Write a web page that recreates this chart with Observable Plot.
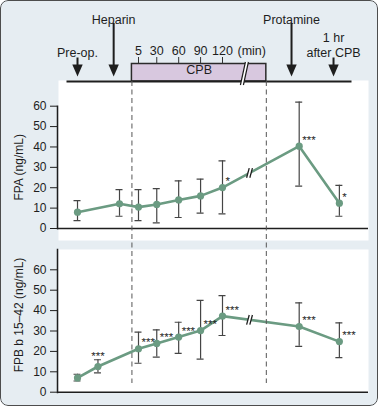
<!DOCTYPE html>
<html><head><meta charset="utf-8">
<script src="https://cdn.jsdelivr.net/npm/d3@7"></script>
<script src="https://cdn.jsdelivr.net/npm/@observablehq/plot@0.6"></script>
<style>
html,body{margin:0;padding:0;background:#fff;}
#chart{position:relative;width:378px;height:406px;background:#e6edf2;overflow:hidden;border-radius:8px;}
#border{position:absolute;left:0;top:0;width:378px;height:406px;border:1.5px solid #4d4d4d;border-radius:8px;box-sizing:border-box;pointer-events:none;}
</style></head><body><div id="chart"><div id="border"></div></div><script>
// ---- data ----
const cpbTicks = [5, 30, 60, 90, 120];
const cpbTickLabels = ["5", "30", "60", "90", "120"];
const cpbUnit = "(min)";
const cpbStart = -4, cpbEnd = 180;
const timelineBreak = 150;
const panelBreak = 157;
const eventLabels = ["Pre-op.", "Heparin", "Protamine", "1 hr\nafter CPB"];
const eventX = [-78.5, -29, 214.5, 272];
const eventKind = ["time", "drug", "drug", "time"];

const fpaX = [-78.5, -21, 5, 30, 60, 90, 120, 225, 280];
const fpaMean = [8, 12.1, 10.5, 11.8, 14, 16, 20.1, 40.4, 12.4];
const fpaLow = [3.9, 6, 3.9, 2.8, 5.4, 7.5, 7.2, 20.8, 6];
const fpaHigh = [13.7, 19.1, 19.1, 19.6, 23.4, 24.2, 33.2, 62, 21.2];
const fpaSig = ["", "", "", "", "", "", "*", "***", "*"];

const fpbX = [-78.5, -50.5, 5, 30, 60, 90, 120, 225, 280];
const fpbMean = [7, 12.6, 21.3, 23.9, 27, 30.2, 37.3, 32.2, 24.8];
const fpbLow = [5.5, 9.5, 14.2, 17.2, 19, 16.2, 27.8, 22.5, 16.9];
const fpbHigh = [8.8, 15.9, 29.4, 30.6, 34.3, 45, 47.3, 43.8, 34];
const fpbSig = ["", "***", "***", "***", "***", "***", "***", "***", "***"];

const yTicks = [0, 10, 20, 30, 40, 50, 60];

// ---- layout ----
const W = 378;
const FONT = '"Liberation Sans", Arial, Helvetica, sans-serif';
const GREEN = "#6b9b82";
const INK = "#1e1e1e";
const xScale = {domain: [5, 120], range: [138, 222], axis: null};
const chartEl = document.getElementById("chart");
const borderEl = document.getElementById("border");

function place(el, y0) {
  el.style.position = "absolute";
  el.style.left = "0px";
  el.style.top = y0 + "px";
  el.style.background = "transparent";
  el.style.overflow = "visible";
  el.style.maxWidth = "none";
  chartEl.insertBefore(el, borderEl);
}

function slashSymbol(h, s, g) {
  return {draw(ctx) {
    ctx.moveTo(-g / 2 - s, h); ctx.lineTo(-g / 2 + s, -h);
    ctx.moveTo(g / 2 - s, h); ctx.lineTo(g / 2 + s, -h);
  }};
}
function gapSymbol(h, s, g) {
  return {draw(ctx) {
    ctx.moveTo(-g / 2 - s, h); ctx.lineTo(-g / 2 + s, -h);
    ctx.lineTo(g / 2 + s, -h); ctx.lineTo(g / 2 - s, h); ctx.closePath();
  }};
}
const arrowHead = {draw(ctx) {
  ctx.moveTo(0, 0); ctx.lineTo(-5.2, -12); ctx.lineTo(5.2, -12); ctx.closePath();
}};

function panel(opts) {
  const {xs, mean, lo, hi, sig, label, height, marginBottom, yRange, whiteExtra, axisInsetTop, labelY, labelDy} = opts;
  const data = xs.map((x, i) => ({x, m: mean[i], lo: lo[i], hi: hi[i], sig: sig[i]}));
  const i6 = 6, i7 = 7;
  const bx = panelBreak;
  const by = data[i6].m + (bx - data[i6].x) / (data[i7].x - data[i6].x) * (data[i7].m - data[i6].m);
  const breakPt = [{x: bx, y: by}];
  const sigRight = data.filter(d => d.sig && d.x > cpbStart);
  const sigAbove = data.filter(d => d.sig && d.x <= cpbStart);
  return Plot.plot({
    width: W, height, marginTop: 0, marginBottom, marginLeft: 57, marginRight: 10,
    x: xScale,
    y: {domain: [0, 60], range: yRange, axis: null},
    style: {fontFamily: FONT, color: INK},
    marks: [
      Plot.frame({fill: "white", stroke: null, insetLeft: 1, insetBottom: -whiteExtra}),
      Plot.frame({anchor: "left", stroke: INK, strokeWidth: 1.5, insetTop: axisInsetTop}),
      Plot.ruleY([0], {stroke: INK, strokeWidth: 1.5}),
      Plot.axisY({ticks: yTicks, tickSize: 7, tickPadding: 4, fontSize: 12, label: null, stroke: INK, strokeWidth: 1}),
      Plot.text([label], {y: labelY, frameAnchor: "left", textAnchor: "middle", dx: -38, dy: labelDy, rotate: -90, fontSize: 12, fill: INK}),
      Plot.ruleX(data, {x: "x", y1: "lo", y2: "hi", stroke: "#454545", strokeWidth: 1.2}),
      Plot.ruleY(data, {y: "lo", x1: "x", x2: "x", insetLeft: -3.5, insetRight: -3.5, stroke: "#454545", strokeWidth: 1.2}),
      Plot.ruleY(data, {y: "hi", x1: "x", x2: "x", insetLeft: -3.5, insetRight: -3.5, stroke: "#454545", strokeWidth: 1.2}),
      Plot.line(data, {x: "x", y: "m", stroke: GREEN, strokeWidth: 2.6}),
      Plot.dot(data, {x: "x", y: "m", r: 3.6, fill: GREEN, stroke: null}),
      Plot.dot(breakPt, {x: "x", y: "y", symbol: gapSymbol(4.8, 1.3, 3.2), fill: "white", stroke: null, r: 3}),
      Plot.dot(breakPt, {x: "x", y: "y", symbol: slashSymbol(4.8, 1.3, 3.2), fill: "none", stroke: INK, strokeWidth: 1.3, r: 3}),
      Plot.text(sigRight, {x: "x", y: "m", text: "sig", textAnchor: "start", dx: 3, dy: -6, fontSize: 11.5, fill: INK}),
      Plot.text(sigAbove, {x: "x", y: "m", text: "sig", textAnchor: "middle", dy: -10, fontSize: 11.5, fill: INK})
    ]
  });
}

// Top panel (FPA)
const topPanel = panel({
  xs: fpaX, mean: fpaMean, lo: fpaLow, hi: fpaHigh, sig: fpaSig,
  label: "FPA (ng/mL)", height: 162, marginBottom: 14, yRange: [148, 25.7],
  whiteExtra: 12, axisInsetTop: 25.7, labelY: [30], labelDy: 0
});
place(topPanel, 80);

// Bottom panel (FPB b 15–42)
const bottomPanel = panel({
  xs: fpbX, mean: fpbMean, lo: fpbLow, hi: fpbHigh, sig: fpbSig,
  label: "FPB b 15\u201342 (ng/mL)", height: 146, marginBottom: 3, yRange: [142.7, 20.3],
  whiteExtra: 0, axisInsetTop: 0, labelY: undefined, labelDy: -6
});
place(bottomPanel, 249);

// Timeline
const events = eventLabels.map((t, i) => ({t, x: eventX[i], kind: eventKind[i]}));
const drugs = events.filter(d => d.kind === "drug");
const times = events.filter(d => d.kind === "time");
const timeline = Plot.plot({
  width: W, height: 86, marginTop: 0, marginBottom: 5, marginLeft: 67, marginRight: 28,
  x: xScale,
  style: {fontFamily: FONT, color: INK},
  marks: [
    Plot.rect([{a: cpbStart, b: cpbEnd}], {x1: "a", x2: "b", insetTop: 63.5, fill: "#d8c8df", stroke: "#2b2b2b", strokeWidth: 1.5}),
    Plot.frame({anchor: "bottom", stroke: INK, strokeWidth: 2}),
    Plot.ruleX(cpbTicks, {insetTop: 57, insetBottom: 17.5, stroke: "#333", strokeWidth: 1}),
    Plot.text(cpbTicks, {x: d => d, text: (d, i) => cpbTickLabels[i], frameAnchor: "top", dy: 46, fontSize: 12.5, fill: INK}),
    Plot.text([cpbUnit], {x: [cpbTicks[cpbTicks.length - 1]], text: d => d, frameAnchor: "top", dy: 46, dx: 15, textAnchor: "start", fontSize: 12.5, fill: INK}),
    Plot.text(["CPB"], {x: [(cpbStart + cpbEnd) / 2], text: d => d, frameAnchor: "bottom", dy: -8, fontSize: 12.5, fill: INK}),
    Plot.dot([timelineBreak], {x: d => d, frameAnchor: "bottom", dy: -8, symbol: gapSymbol(11.5, 2.5, 3), fill: "white", stroke: null, r: 3}),
    Plot.dot([timelineBreak], {x: d => d, frameAnchor: "bottom", dy: -8, symbol: slashSymbol(11.5, 2.5, 3), fill: "none", stroke: INK, strokeWidth: 1.2, r: 3}),
    Plot.ruleX(drugs, {x: "x", insetTop: 23, insetBottom: 9, stroke: INK, strokeWidth: 2}),
    Plot.ruleX(times, {x: "x", insetTop: 57.5, insetBottom: 9, stroke: INK, strokeWidth: 2}),
    Plot.dot(events, {x: "x", frameAnchor: "bottom", dy: -5, symbol: arrowHead, fill: INK, stroke: null, r: 3}),
    Plot.text(drugs, {x: "x", text: "t", frameAnchor: "top", dy: 15, fontSize: 12.5, fill: INK}),
    Plot.text(times, {x: "x", text: "t", frameAnchor: "top", dy: 56, lineAnchor: "bottom", lineHeight: 1.2, fontSize: 12.5, fill: INK})
  ]
});
place(timeline, 0);

// Dashed CPB boundaries
const overlay = Plot.plot({
  width: W, height: 406, marginTop: 81, marginBottom: 23, marginLeft: 57, marginRight: 10,
  x: xScale,
  marks: [
    Plot.ruleX([cpbStart, cpbEnd], {stroke: "#555", strokeWidth: 1, strokeDasharray: "5,3.5"})
  ]
});
place(overlay, 0);
</script></body></html>
